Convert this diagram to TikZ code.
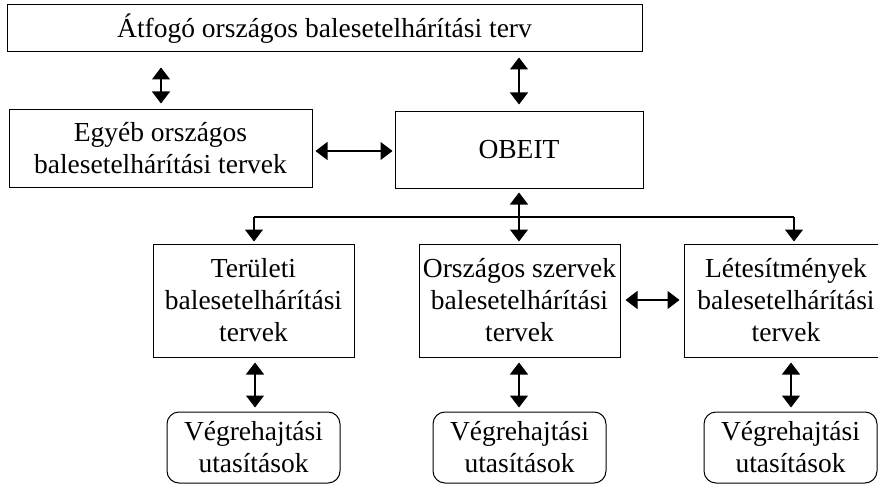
\documentclass[tikz,border=0pt]{standalone}
\usepackage{fontspec}
\setmainfont{Liberation Serif}
\usetikzlibrary{arrows.meta}
\begin{document}
\begin{tikzpicture}[x=1pt,y=-1pt,
  box/.style={draw,line width=1pt,rectangle,align=center,inner sep=0pt,
    font=\fontsize{27.5}{32}\selectfont},
  rbox/.style={box,rounded corners=12pt},
  dbl/.style={line width=1.3pt,{Triangle[width=18pt,length=12pt]}-{Triangle[width=18pt,length=12pt]}},
  sgl/.style={line width=1.3pt,-{Triangle[width=18pt,length=12pt]}},
  bus/.style={line width=1.3pt}]
\clip (0,0) rectangle (878,484);
\fill[white] (0,0) rectangle (878,484);
\node[box,minimum width=635pt,minimum height=47pt] (top) at (324.5,28.5) {Átfogó országos balesetelhárítási terv};
\node[box,minimum width=303pt,minimum height=77pt] (egy) at (160.5,148.5) {Egyéb országos\\balesetelhárítási tervek};
\node[box,minimum width=248pt,minimum height=76pt] (obeit) at (519,150) {OBEIT};
\node[box,minimum width=201pt,minimum height=113pt] (ter) at (253.5,300.5) {Területi\\balesetelhárítási\\tervek};
\node[box,minimum width=201pt,minimum height=113pt] (orsz) at (519.5,300.5) {Országos szervek\\balesetelhárítási\\tervek};
\node[box,minimum width=204pt,minimum height=113pt] (let) at (786,300.5) {Létesítmények\\balesetelhárítási\\tervek};
\node[rbox,minimum width=173pt,minimum height=71pt] (v1) at (253.5,447.5) {Végrehajtási\\utasítások};
\node[rbox,minimum width=173pt,minimum height=71pt] (v2) at (519.5,447.5) {Végrehajtási\\utasítások};
\node[rbox,minimum width=173pt,minimum height=71pt] (v3) at (790.5,447.5) {Végrehajtási\\utasítások};
\coordinate (busc) at (519,217);
\coordinate (busl) at (254,217);
\coordinate (busr) at (794,217);
% connectors
\draw[dbl,shorten <=15pt,shorten >=6pt] (top.south -| 161,0) -- (egy.north -| 161,0);
\draw[dbl,shorten <=5pt,shorten >=7pt] (top.south -| obeit.north) -- (obeit.north);
\draw[dbl,shorten <=3pt,shorten >=2pt] (egy.east |- 0,151) -- (obeit.west |- 0,151);
\draw[dbl,shorten <=4pt,shorten >=2pt] (obeit.south) -- (orsz.north -| obeit.south);
\draw[bus] (busl) -- (busr);
\draw[sgl,shorten >=2pt] (busl) -- (ter.north -| busl);
\draw[sgl,shorten >=2pt] (busr) -- (let.north -| busr);
\draw[dbl,shorten <=5pt,shorten >=4pt] (ter.south -| 255,0) -- (v1.north -| 255,0);
\draw[dbl,shorten <=5pt,shorten >=4pt] (orsz.south -| 519,0) -- (v2.north -| 519,0);
\draw[dbl,shorten <=5pt,shorten >=4pt] (let.south -| 791,0) -- (v3.north -| 791,0);
\draw[dbl,shorten <=5pt,shorten >=4pt] (orsz.east |- 0,300) -- (let.west |- 0,300);
\end{tikzpicture}
\end{document}
